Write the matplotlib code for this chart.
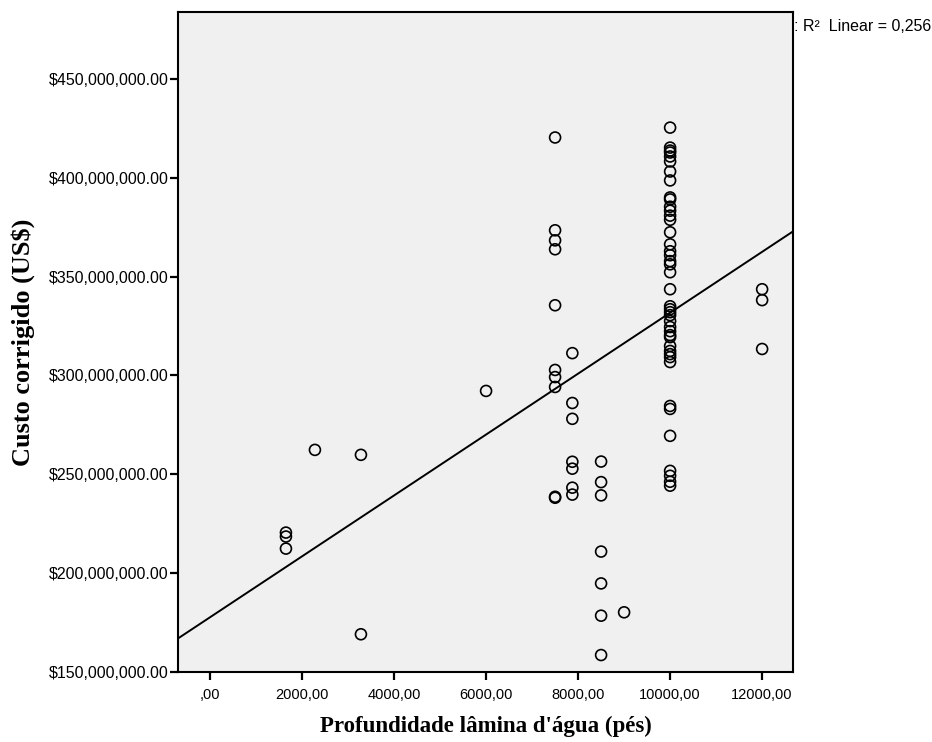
import numpy as np
import matplotlib
matplotlib.use("Agg")
import matplotlib.pyplot as plt
from matplotlib.ticker import FuncFormatter

# profundidade (pes) e custo corrigido (milhoes de US$)
depth_1650 = [1650, 1650, 1650]
cost_1650 = [220.6, 218.6, 212.5]

depth_misc = [2280, 3280, 3280, 6000, 9000]
cost_misc = [262.4, 259.9, 169.2, 292.2, 180.3]

cost_7500 = [420.3, 373.4, 368.3, 363.8, 335.5, 302.8, 299.2, 294.2, 238.7, 238.2]
cost_7875 = [311.3, 286.1, 278.1, 256.4, 252.9, 243.3, 239.8]
cost_8500 = [256.5, 246.1, 239.4, 211.0, 194.9, 178.6, 158.7]
cost_10000 = [425.3, 415.2, 413.7, 412.7, 410.7, 408.2, 403.1, 398.6, 390.0, 389.0,
              385.3, 383.3, 380.8, 378.7, 372.4, 366.3, 362.8, 360.8, 357.8, 356.2,
              352.2, 343.6, 335.0, 333.5, 332.0, 330.5, 327.5, 324.5, 322.4, 320.4,
              319.4, 314.9, 312.4, 310.8, 309.3, 306.8, 284.6, 283.1, 269.5, 251.8,
              249.3, 246.3, 244.3]
cost_12000 = [343.6, 338.1, 313.4]

# reta de ajuste linear, R2 = 0,256
fit_intercept = 177.8e6
fit_slope = 15392.0
r2_text = ": R\u00b2  Linear = 0,256"

x_ticks = [0, 2000, 4000, 6000, 8000, 10000, 12000]
y_ticks = [150e6, 200e6, 250e6, 300e6, 350e6, 400e6, 450e6]


def build_points():
    xs = list(depth_1650) + list(depth_misc)
    ys = list(cost_1650) + list(cost_misc)
    for d, c in [(7500, cost_7500), (7875, cost_7875), (8500, cost_8500),
                 (10000, cost_10000), (12000, cost_12000)]:
        xs += [d] * len(c)
        ys += c
    return np.array(xs, dtype=float), np.array(ys) * 1e6


def fmt_x(v, pos):
    s = f"{v:.2f}".replace(".", ",")
    if s.startswith("0,"):
        s = s[1:]
    return s


def main():
    x, y = build_points()

    fig = plt.figure(figsize=(9.32, 7.42), dpi=100)
    ax = fig.add_axes([0.191, 0.094, 0.660, 0.890])
    ax.set_facecolor("#f0f0f0")

    xlim = (-696, 12674)
    ylim = (150.9e6, 483.8e6)

    ax.scatter(x, y, s=62, facecolors="none", edgecolors="black", linewidths=1.2, zorder=3)

    xl = np.array(xlim, dtype=float)
    ax.plot(xl, fit_intercept + fit_slope * xl, color="black", linewidth=1.4, zorder=2)

    ax.set_xlim(*xlim)
    ax.set_ylim(*ylim)
    ax.set_xticks(x_ticks)
    ax.set_yticks(y_ticks)
    ax.xaxis.set_major_formatter(FuncFormatter(fmt_x))
    ax.yaxis.set_major_formatter(FuncFormatter(lambda v, p: f"${v:,.2f}"))
    ax.tick_params(direction="out", length=6, width=1.6, colors="black")
    ax.tick_params(axis="x", labelsize=10.5, pad=5)
    ax.tick_params(axis="y", labelsize=11.5, pad=1)
    for lab in ax.get_xticklabels() + ax.get_yticklabels():
        lab.set_fontfamily("Liberation Sans")
    for sp in ax.spines.values():
        sp.set_linewidth(1.5)

    ax.set_xlabel("Profundidade lâmina d'água (pés)", fontfamily="Liberation Serif",
                  fontweight="bold", fontsize=16.5, labelpad=10)
    ax.set_ylabel("Custo corrigido (US$)", fontfamily="Liberation Serif",
                  fontweight="bold", fontsize=19, labelpad=10)

    fig.text(0.852, 0.964, r2_text, fontfamily="Liberation Sans", fontsize=11.5,
             ha="left", va="center")

    fig.savefig("out.png", dpi=100)


if __name__ == "__main__":
    main()
